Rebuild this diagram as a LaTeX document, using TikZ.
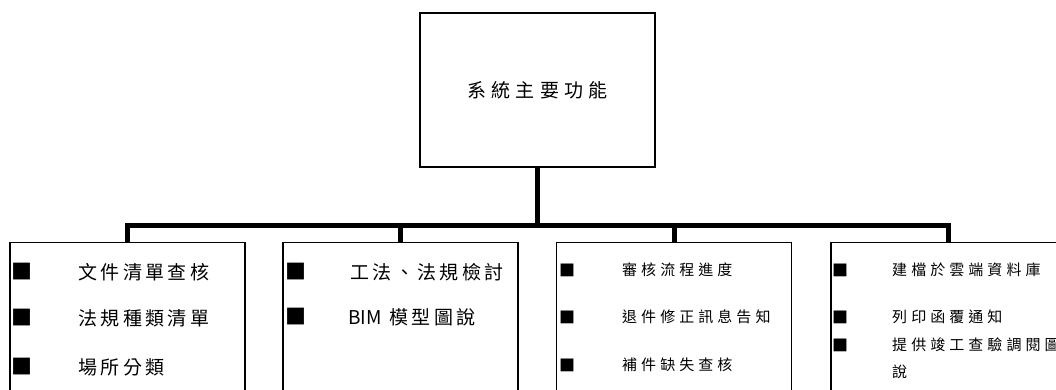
\documentclass[tikz,border=0pt]{standalone}
\usepackage{fontspec}
\setmainfont{Noto Sans CJK TC}
\newfontfamily\maincjk[LetterSpace=28]{Noto Sans CJK TC}
\newfontfamily\bigcjk[LetterSpace=18]{Noto Sans CJK TC}
\newfontfamily\smallcjk[LetterSpace=27]{Noto Sans CJK TC}
\newfontfamily\plaincjk{Noto Sans CJK TC}
\usetikzlibrary{positioning}

\begin{document}
\begin{tikzpicture}[x=1pt, y=-1pt,
  mainbox/.style={draw, line width=1.2pt, minimum width=235pt, minimum height=154pt,
                  font=\maincjk\fontsize{19}{20}\selectfont},
  funcbox/.style={draw, line width=1.2pt, minimum width=235pt, minimum height=170pt, anchor=north},
  bus/.style={line width=5pt},
  bigitem/.style={anchor=west, inner sep=0pt, font=\bigcjk\fontsize{19}{22}\selectfont},
  smallitem/.style={anchor=west, inner sep=0pt, align=left, font=\smallcjk\fontsize{15}{27}\selectfont},
  bigdot/.style={anchor=west, inner sep=0pt, font=\plaincjk\fontsize{21}{21}\selectfont},
  smalldot/.style={anchor=west, inner sep=0pt, font=\plaincjk\fontsize{16}{16}\selectfont}
]
\clip (0,0) rectangle (1056,390);

% --- Top: main function box ---
\node[mainbox] (main) at (537.5,90) {系統主要功能};

% --- Bottom: function boxes ---
\node[funcbox] (f1) at (127.5,242) {};
\node[funcbox] (f2) at (400.5,242) {};
\node[funcbox] (f3) at (674,242) {};
\node[funcbox] (f4) at (948.5,242) {};

% Bus lines
\coordinate (junc) at (537.5,225);
\draw[bus] (main.south) -- (junc);
\draw[bus] (f1.north) -- (f1.north |- junc) -- (f4.north |- junc) -- (f4.north);
\draw[bus] (f2.north |- junc) -- (f2.north);
\draw[bus] (f3.north |- junc) -- (f3.north);

% Bullets
\foreach \x/\y [count=\i] in {11/272,11/318,11/367,285/272,285/317} {
  \node[bigdot] (bd\i) at (\x,\y) {■};
}
\foreach \x/\y [count=\i] in {559/270,559/317,559/365,832/270,832/317,832/345} {
  \node[smalldot] (sd\i) at (\x,\y) {■};
}

% Box 1
\node[bigitem] (i1a) at (78,272) {文件清單查核};
\node[bigitem] (i1b) at (78,318) {法規種類清單};
\node[bigitem] (i1c) at (78,367) {場所分類};

% Box 2
\node[bigitem] (i2a) at (350,272) {工法、法規檢討};
\node[bigitem] (i2b) at (348,317) {{\plaincjk BIM} 模型圖說};

% Box 3
\node[smallitem] (i3a) at (622,270) {審核流程進度};
\node[smallitem] (i3b) at (622,317) {退件修正訊息告知};
\node[smallitem] (i3c) at (622,365) {補件缺失查核};

% Box 4
\node[smallitem] (i4a) at (892,270) {建檔於雲端資料庫};
\node[smallitem] (i4b) at (892,317) {列印函覆通知};
\node[smallitem, anchor=north west] (i4c) at (892,338) {提供竣工查驗調閱圖\\說};

\end{tikzpicture}
\end{document}
